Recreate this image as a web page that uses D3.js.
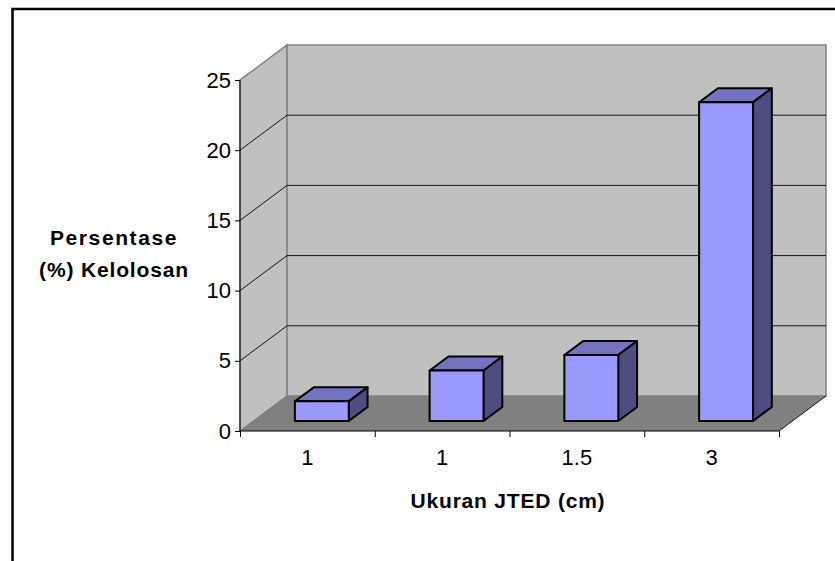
<!DOCTYPE html>
<html>
<head>
<meta charset="utf-8">
<script src="https://cdn.jsdelivr.net/npm/d3@7/dist/d3.min.js"></script>
<style>
    html, body { margin: 0; padding: 0; background: #fff; }
    svg { display: block; }
    text { font-family: "Liberation Sans", Arial, sans-serif; fill: #000; }
</style>
</head>
<body>
<svg id="chart" width="835" height="561"></svg>
<script>
// Values
const categories = ["1", "1", "1.5", "3"];
const values = [1.4, 3.6, 4.7, 22.7];
const yTicks = [0, 5, 10, 15, 20, 25];
const yTitleLines = ["Persentase", "(%) Kelolosan"];
const xTitle = "Ukuran JTED (cm)";

const svg = d3.select("#chart");

// Front plane of the plot box, and how far the back wall is shifted
const x0 = 240, x1 = 779, y0 = 431, y1 = 80;
const depthX = 47, depthY = -35;

const y = d3.scaleLinear().domain([0, 25]).range([y0, y1]);
const xEdge = d3.scaleLinear().domain([0, categories.length]).range([x0, x1]);
const x = d3.scaleBand().domain(d3.range(categories.length)).range([x0, x1]).paddingInner(0.6).paddingOuter(0.3);

// Outer frame, runs off the right and bottom of the page
svg.append("path")
    .attr("d", "M12.5,561V9H835")
    .attr("fill", "none")
    .attr("stroke", "#000")
    .attr("stroke-width", 2.5);

// Walls and floor
const poly = pts => "M" + pts.map(p => p.join(",")).join("L") + "Z";
const wallStroke = "#808080";

svg.append("path") // side wall
    .attr("d", poly([[x0, y0], [x0, y1], [x0 + depthX, y1 + depthY], [x0 + depthX, y0 + depthY]]))
    .attr("fill", "#c0c0c0").attr("stroke", wallStroke).attr("stroke-width", 1.5);
svg.append("path") // back wall
    .attr("d", poly([[x0 + depthX, y0 + depthY], [x0 + depthX, y1 + depthY], [x1 + depthX, y1 + depthY], [x1 + depthX, y0 + depthY]]))
    .attr("fill", "#c0c0c0").attr("stroke", wallStroke).attr("stroke-width", 1.5);
svg.append("path") // floor
    .attr("d", poly([[x0, y0], [x0 + depthX, y0 + depthY], [x1 + depthX, y0 + depthY], [x1, y0]]))
    .attr("fill", "#808080").attr("stroke", "none");

// Gridlines on side wall and back wall
const grid = svg.append("g");
yTicks.filter(t => t > 0 && t < 25).forEach(t => {
    grid.append("path")
        .attr("d", `M${x0},${y(t)}L${x0 + depthX},${y(t) + depthY}H${x1 + depthX}`)
        .attr("fill", "none")
        .attr("stroke", "#000")
        .attr("stroke-width", 0.9);
});

// Right edge of the floor
svg.append("line")
    .attr("x1", x1).attr("y1", y0)
    .attr("x2", x1 + depthX).attr("y2", y0 + depthY)
    .attr("stroke", "#000").attr("stroke-width", 0.9);

// Axes
const yAxis = svg.append("g")
    .attr("transform", `translate(${x0},0)`)
    .call(d3.axisLeft(y).tickValues(yTicks).tickSize(5).tickPadding(4));
yAxis.selectAll("text").attr("font-size", 22).style("font-family", '"Liberation Sans", Arial, sans-serif');
yAxis.selectAll("line").attr("stroke", "#000");
yAxis.select(".domain").attr("stroke", "#000").attr("d", `M0,${y0}V${y1}`);

const xAxis = svg.append("g")
    .attr("transform", `translate(0,${y0})`)
    .call(d3.axisBottom(xEdge).tickValues(d3.range(categories.length + 1)).tickSize(6).tickFormat(""));
xAxis.selectAll("line").attr("stroke", "#000");
xAxis.select(".domain").attr("stroke", "#000").attr("d", `M${x0},0H${x1}`);

svg.selectAll(".cat")
    .data(categories)
    .enter().append("text")
    .attr("class", "cat")
    .attr("x", (d, i) => (xEdge(i) + xEdge(i + 1)) / 2)
    .attr("y", 465)
    .attr("text-anchor", "middle")
    .attr("font-size", 22)
    .text(d => d);

// Bars: front face sits part way into the floor
const barShiftX = depthX * 0.286 + 1, barShiftY = depthY * 0.286;
const barDepthX = depthX * 0.4, barDepthY = depthY * 0.4;

const bars = svg.selectAll(".bar")
    .data(values)
    .enter().append("g")
    .attr("class", "bar")
    .attr("stroke", "#000")
    .attr("stroke-width", 2)
    .attr("stroke-linejoin", "round");

bars.each(function(d, i) {
    const g = d3.select(this);
    const l = x(i) + barShiftX, r = l + x.bandwidth();
    const b = y(0) + barShiftY, t = y(d) + barShiftY;
    g.append("path") // top
        .attr("d", poly([[l, t], [l + barDepthX, t + barDepthY], [r + barDepthX, t + barDepthY], [r, t]]))
        .attr("fill", "#7373bf");
    g.append("path") // side
        .attr("d", poly([[r, t], [r + barDepthX, t + barDepthY], [r + barDepthX, b + barDepthY], [r, b]]))
        .attr("fill", "#4d4d80");
    g.append("path") // front
        .attr("d", poly([[l, t], [r, t], [r, b], [l, b]]))
        .attr("fill", "#9999ff");
});

// Titles, the reference has loose letter spacing
svg.append("text")
    .attr("text-anchor", "middle")
    .attr("font-size", 21)
    .attr("font-weight", "bold")
    .selectAll("tspan")
    .data(yTitleLines)
    .enter().append("tspan")
    .attr("x", 114)
    .attr("y", (d, i) => 245 + i * 32)
    .attr("letter-spacing", (d, i) => i === 0 ? 1.6 : 0.85)
    .text(d => d);

svg.append("text")
    .attr("x", 508)
    .attr("y", 508)
    .attr("text-anchor", "middle")
    .attr("font-size", 21)
    .attr("font-weight", "bold")
    .attr("letter-spacing", 0.8)
    .text(xTitle);
</script>
</body>
</html>
